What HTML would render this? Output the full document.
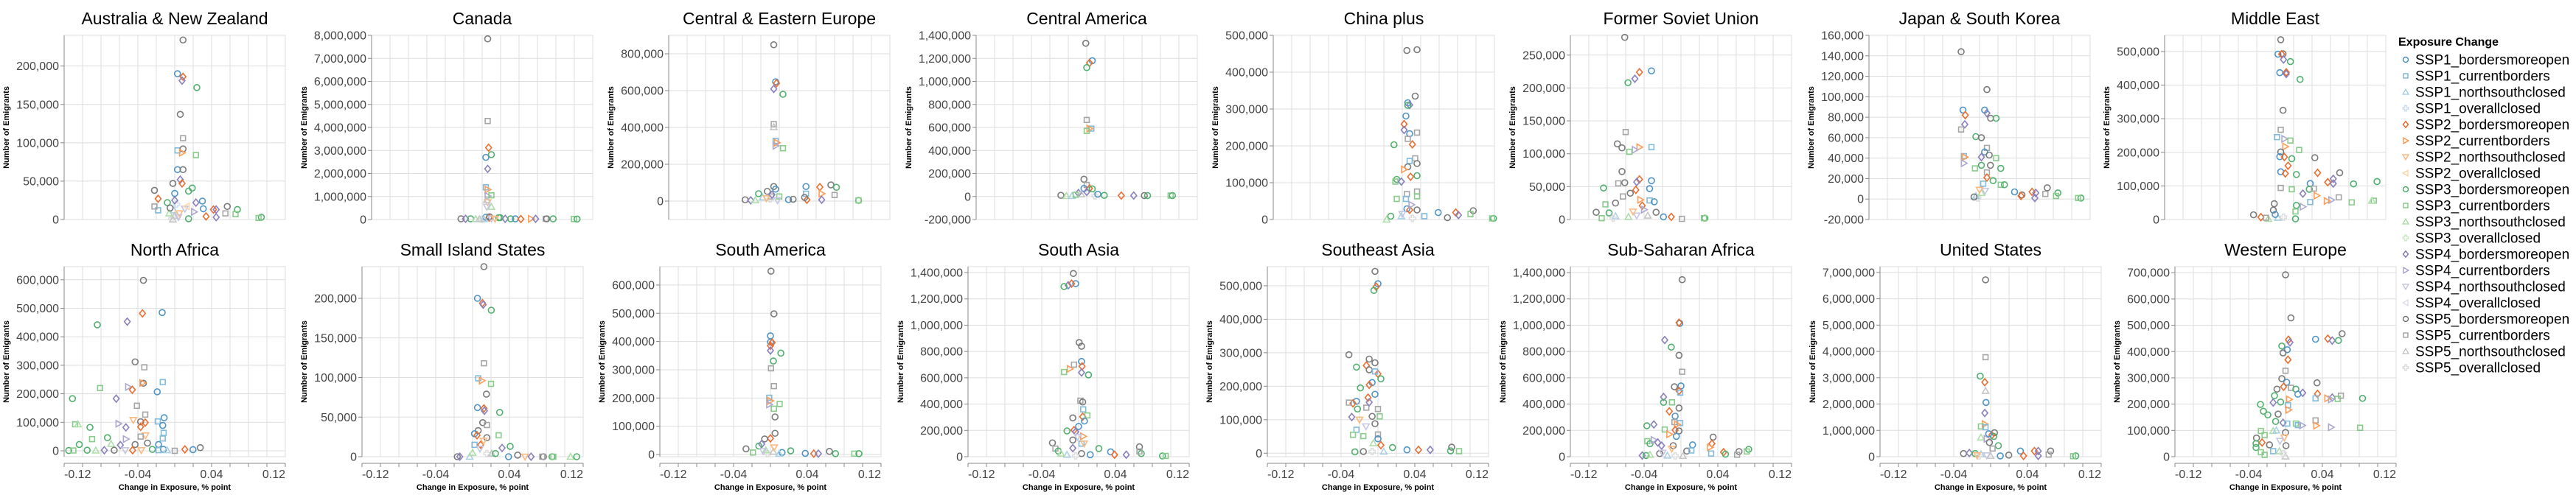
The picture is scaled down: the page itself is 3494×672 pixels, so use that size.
<!DOCTYPE html>
<html>
<head>
<meta charset="utf-8">
<style>
html,body{margin:0;padding:0;background:#fff;}
svg{display:block;font-family:"Liberation Sans",Arial,sans-serif;}
</style>
</head>
<body>
<svg id="chart" width="3494" height="672" viewBox="0 0 3494 672" xmlns="http://www.w3.org/2000/svg"></svg>
<script>
const seriesNames = ["SSP1_bordersmoreopen","SSP1_currentborders","SSP1_northsouthclosed","SSP1_overallclosed","SSP2_bordersmoreopen","SSP2_currentborders","SSP2_northsouthclosed","SSP2_overallclosed","SSP3_bordersmoreopen","SSP3_currentborders","SSP3_northsouthclosed","SSP3_overallclosed","SSP4_bordersmoreopen","SSP4_currentborders","SSP4_northsouthclosed","SSP4_overallclosed","SSP5_bordersmoreopen","SSP5_currentborders","SSP5_northsouthclosed","SSP5_overallclosed"];
const panelNames = ["Australia & New Zealand","Canada","Central & Eastern Europe","Central America","China plus","Former Soviet Union","Japan & South Korea","Middle East","North Africa","Small Island States","South America","South Asia","Southeast Asia","Sub-Saharan Africa","United States","Western Europe"];
const xTickLabels = [-0.12,-0.04,0.04,0.12];
const xDomain = [-0.12,0.12];
const yTicks = [
 [0,50000,100000,150000,200000],
 [0,1000000,2000000,3000000,4000000,5000000,6000000,7000000,8000000],
 [0,200000,400000,600000,800000],
 [-200000,0,200000,400000,600000,800000,1000000,1200000,1400000],
 [0,100000,200000,300000,400000,500000],
 [0,50000,100000,150000,200000,250000],
 [-20000,0,20000,40000,60000,80000,100000,120000,140000,160000],
 [0,100000,200000,300000,400000,500000],
 [0,100000,200000,300000,400000,500000,600000],
 [0,50000,100000,150000,200000],
 [0,100000,200000,300000,400000,500000,600000],
 [0,200000,400000,600000,800000,1000000,1200000,1400000],
 [0,100000,200000,300000,400000,500000],
 [0,200000,400000,600000,800000,1000000,1200000,1400000],
 [0,1000000,2000000,3000000,4000000,5000000,6000000,7000000],
 [0,100000,200000,300000,400000,500000,600000,700000]
];
const yDomains = [
 [0,240000],[0,8000000],[-100000,900000],[-200000,1400000],[0,500000],[0,280000],[-20000,160000],[0,548000],
 [-20700,646000],[0,240000],[-7800,665000],[0,1445000],[-10400,557000],[0,1445000],[0,7220000],[0,723000]
];
const ausData = [[.009,234000,16],[.003,190000,0],[.009,186000,4],[.008,181000,12],[.024,172000,8],[.006,137000,16],[.009,106000,17],[.003,90000,1],[.009,92000,16],[.008,87000,5],[.023,84000,9],[.003,65000,0],[.009,65000,16],[.006,52000,12],[.008,47000,4],[-.002,47000,16],[.015,37000,8],[.019,41000,8],[-.022,38000,16],[0,34000,0],[-.018,27000,4],[-.008,22000,8],[.030,24000,0],[.023,22000,12],[.031,14000,0],[.042,13000,4],[.045,13000,12],[.057,17000,16],[.068,13000,8],[.055,8000,17],[.066,7000,9],[.094,3000,8],[.091,2000,9],[.034,4000,4],[.045,3000,12],[.015,1000,8],[.021,10000,13],[-.018,12000,1],[-.022,17000,17],[-.001,12000,2],[0,5000,18],[-.003,1000,19],[.005,8000,6],[-.006,8000,10],[.011,14000,14],[.002,20000,3],[.013,17000,7],[0,25000,12],[-.005,15000,16],[.004,3000,14],[-.002,0,18]];
const canData = [[.006,7850000,16],[.006,4280000,17],[.007,3120000,4],[.010,2820000,8],[.004,2700000,0],[.006,2200000,12],[.004,1400000,1],[.006,1300000,5],[.006,1020000,13],[.010,1050000,9],[.006,750000,6],[.010,550000,10],[.005,550000,14],[.005,850000,18],[-.023,30000,16],[-.018,30000,12],[-.0125,30000,8],[-.007,20000,10],[0,10000,19],[.0075,80000,4],[.0195,80000,8],[.025,30000,12],[.031,30000,8],[.036,30000,0],[.042,20000,4],[.053,30000,5],[.058,30000,12],[.069,30000,17],[.070,30000,16],[.077,30000,8],[.0995,20000,9],[.103,20000,8],[.004,100000,0],[.008,120000,16],[.018,80000,8],[.002,20000,2],[-.003,20000,18],[.01,40000,14],[.014,30000,6]];
const ceeData = [[-.006,849000,16],[-.004,648000,0],[-.003,640000,4],[-.006,609000,12],[.004,580000,8],[-.006,418000,17],[-.006,402000,18],[-.004,327000,1],[-.0025,317000,5],[-.004,300000,13],[.004,287000,9],[-.006,79000,16],[-.004,65000,0],[-.013,53000,16],[-.0225,40000,8],[-.037,7000,16],[-.031,4000,12],[-.009,25000,17],[0,25000,9],[.010,8000,0],[.015,10000,16],[.029,79000,0],[.029,40000,1],[.044,76000,4],[.046,40000,5],[.046,7000,12],[.056,88000,16],[.062,75000,8],[.060,33000,17],[.030,7000,4],[.0275,20000,16],[.086,4000,8],[.086,4000,9],[-.018,20000,2],[-.010,12000,19],[-.026,5000,10],[-.002,4000,14],[-.014,15000,6],[-.008,35000,12]];
const camData = [[-.001,1331000,16],[.006,1180000,0],[.003,1160000,4],[0,1120000,8],[0,665000,17],[.005,590000,1],[.003,590000,5],[0,570000,9],[-.003,150000,16],[0,100000,17],[-.003,70000,0],[.003,70000,4],[.006,66000,8],[-.009,30000,12],[-.028,10000,16],[-.022,5000,10],[.019,10000,8],[.0375,8000,4],[.051,8000,12],[.0625,8000,16],[.066,8000,8],[.091,8000,9],[.093,8000,8],[-.016,5000,2],[.009,5000,19],[-.006,20000,18],[0,40000,12],[-.012,15000,9],[.012,20000,0]];
const chnData = [[.025,459000,16],[.036,461000,16],[.034,335000,16],[.026,317000,0],[.028,311000,12],[.026,310000,8],[.024,281000,0],[.022,259000,4],[.022,243000,12],[.028,233000,0],[.036,236000,17],[.026,219000,17],[.031,204000,4],[.011,203000,8],[.034,166000,17],[.036,152000,16],[.028,159000,1],[.026,143000,16],[.022,136000,5],[.014,109000,8],[.0125,103000,9],[.019,103000,12],[.029,116000,4],[.036,119000,8],[.014,56000,9],[.025,69000,17],[.036,76000,17],[.036,63000,9],[.024,56000,1],[.025,29000,0],[.028,26000,4],[.036,26000,16],[.0075,9000,8],[.019,9000,2],[.059,19000,0],[.069,5000,16],[.078,19000,4],[.081,12000,12],[.097,24000,16],[.094,15000,9],[.119,3000,8],[.1175,3000,9],[.044,9000,1],[.003,0,10],[.031,3000,19],[.020,15000,14],[.030,40000,13]];
const fsuData = [[-.061,277000,16],[-.032,226000,0],[-.045,224000,4],[-.050,214000,12],[-.0575,208000,8],[-.060,133000,17],[-.069,115000,16],[-.064,109000,16],[-.045,110000,5],[-.032,110000,1],[-.050,106000,13],[-.056,103000,9],[-.064,73000,16],[-.045,61000,4],[-.032,59000,0],[-.048,57000,12],[-.068,55000,17],[-.061,56000,16],[-.034,47000,0],[-.084,48000,8],[-.049,45000,4],[-.055,40000,16],[-.063,35000,17],[-.034,29000,1],[-.029,27000,0],[-.082,23000,9],[-.071,25000,16],[-.044,30000,5],[-.042,21000,4],[-.092,11000,16],[-.078,10000,8],[-.027,11000,16],[-.019,4000,0],[-.0105,4000,4],[.001,1000,17],[.026,2000,8],[.025,2000,9],[-.086,2000,9],[-.071,5000,2],[-.057,4000,10],[-.048,6000,14],[-.036,6000,18],[-.0735,2000,19],[-.040,15000,13],[-.052,12000,6]];
const jpnData = [[-.020,144000,16],[.008,107000,16],[-.018,87000,0],[.0055,87000,0],[-.0155,82000,4],[.008,84000,12],[.012,79000,16],[.018,79000,8],[-.016,73000,12],[-.020,68000,17],[-.004,61000,8],[.002,60000,16],[.008,50000,17],[.0055,46000,0],[.0105,43000,16],[-.017,42000,1],[-.016,41000,5],[.002,41000,12],[.018,40000,9],[-.017,35000,13],[.002,33000,8],[.0118,33000,16],[-.005,30000,9],[.023,30000,8],[.008,26000,17],[.008,21000,4],[.0147,18000,8],[.023,14000,9],[.027,14000,8],[.038,7000,0],[.046,4000,16],[.045,3000,4],[.057,7000,4],[.061,6000,12],[.060,1000,12],[.0735,11000,16],[.0714,5000,17],[.085,6000,8],[.083,3000,9],[.110,1000,8],[.107,1000,9],[-.002,1000,19],[-.004,3000,2],[.002,6000,10],[.006,8000,14],[0,9000,6],[-.006,2000,16],[.004,15000,1]];
const mdeData = [[.006,535000,16],[.003,492000,0],[.0085,493000,16],[.007,492000,4],[.009,476000,12],[.0165,470000,8],[.005,437000,0],[.012,438000,4],[.012,433000,12],[.027,417000,8],[.0085,325000,16],[.006,267000,17],[.002,245000,1],[.010,240000,13],[.0165,235000,9],[.011,217000,5],[.026,207000,9],[.006,201000,16],[.005,187000,0],[.010,186000,4],[.018,181000,8],[.043,184000,16],[.014,160000,4],[.006,142000,0],[.011,137000,4],[.023,134000,8],[.046,139000,4],[.070,139000,16],[.057,111000,4],[.063,121000,12],[.063,107000,12],[.038,107000,0],[.085,106000,8],[.1105,113000,8],[.037,90000,8],[.042,92000,17],[.018,90000,9],[.006,94000,17],[.030,77000,12],[.045,71000,5],[.069,66000,17],[.061,58000,13],[.056,55000,5],[.083,51000,9],[.107,56000,9],[.105,56000,10],[.038,52000,1],[.030,38000,13],[.023,42000,8],[.022,24000,9],[.022,2000,8],[-.001,47000,16],[-.002,28000,16],[-.0235,14000,16],[-.0155,7000,4],[-.0075,2000,10],[.003,5000,2],[.009,7000,19],[0,15000,0],[-.010,5000,17]];
const nafData = [[-.034,598000,16],[-.035,482000,4],[-.0136,485000,0],[-.084,442000,8],[-.0515,453000,12],[-.043,312000,16],[-.033,293000,17],[-.034,237000,16],[-.035,238000,5],[-.013,241000,1],[-.0505,224000,13],[-.081,220000,9],[-.046,214000,4],[-.019,207000,0],[-.0635,183000,12],[-.111,183000,8],[-.041,158000,17],[-.032,127000,17],[-.0115,116000,0],[-.045,108000,6],[-.0184,103000,1],[-.013,89000,0],[-.037,102000,16],[-.032,99000,4],[-.061,95000,13],[-.037,84000,4],[-.108,93000,9],[-.105,93000,10],[-.053,82000,12],[-.092,82000,8],[-.012,63000,1],[-.0318,54000,6],[-.037,50000,17],[-.013,43000,1],[-.073,46000,8],[-.053,41000,13],[-.0897,41000,9],[-.069,24000,10],[-.1036,22000,8],[-.059,20000,12],[-.0176,22000,0],[-.0296,27000,16],[-.043,22000,16],[.0277,11000,16],[.011,5000,4],[.0198,4000,0],[0,0,17],[-.0123,5000,0],[-.0243,5000,8],[-.0457,2000,4],[-.0764,2000,12],[-.115,1000,8],[-.11,1000,9],[-.095,2000,8],[-.0857,1000,10],[-.0657,2000,16],[-.0537,2000,14],[-.0363,2000,6],[-.0176,2000,1],[-.0083,2000,2]];
const sisData = [[.0123,240000,16],[.0053,200000,0],[.0107,194000,4],[.0115,192000,12],[.0203,185000,8],[.0123,118000,17],[.0061,99000,1],[.0101,96000,5],[.020,92000,9],[.015,79000,16],[.0053,62000,0],[.0123,61000,4],[.0128,58000,12],[.0294,56000,8],[.011,43000,16],[.0155,40000,17],[.0061,33000,16],[.0021,29000,0],[.0048,27000,4],[.0283,27000,9],[.0155,24000,16],[.0021,15000,1],[.0088,15000,4],[.032,11000,12],[.0408,13000,8],[.039,0,0],[.0489,2000,16],[.0569,0,6],[.0635,0,12],[.0769,0,16],[.0756,0,17],[.0862,0,8],[.0876,0,9],[.1063,0,10],[.113,0,8],[-.0166,0,16],[-.0139,0,12],[-.0032,0,2],[.0155,4000,19],[.0208,4000,18],[.0248,4000,8],[.008,10000,14],[0,5000,10],[.012,20000,6]];
const samData = [[.0006,649000,16],[.0038,498000,16],[0,420000,0],[0,398000,0],[.0019,396000,4],[0,385000,4],[0,368000,12],[.0113,359000,8],[.0032,331000,8],[.0006,305000,17],[.0038,242000,17],[-.0013,201000,1],[0,190000,5],[.010,179000,9],[.0038,162000,9],[-.0013,177000,13],[.005,133000,16],[.005,75000,16],[0,57000,4],[-.0063,55000,16],[-.0095,37000,12],[-.0126,30000,8],[-.0265,20000,16],[-.019,7000,9],[.022,13000,8],[.0126,7000,0],[.0378,4000,0],[.047,3000,4],[.052,3000,12],[.064,11000,16],[.0706,3000,8],[.091,3000,9],[.096,3000,8],[-.0032,3000,19],[.0032,10000,18],[.0095,3000,2],[-.005,15000,10],[.004,25000,6],[-.008,12000,14]];
const sasData = [[-.0057,1393000,16],[-.0032,1316000,0],[-.0076,1316000,4],[-.0113,1303000,12],[-.0158,1294000,8],[.0006,868000,16],[.0032,840000,16],[.0032,724000,0],[.0038,687000,4],[-.005,700000,17],[-.0095,668000,5],[.0032,640000,12],[-.0158,644000,9],[.0107,622000,8],[.0019,426000,17],[.0044,416000,16],[.005,360000,1],[.0044,304000,4],[.0095,314000,9],[.0063,271000,0],[-.0063,295000,16],[0,230000,0],[-.005,202000,4],[-.0032,189000,12],[-.0126,196000,8],[.005,155000,5],[.0032,99000,1],[-.0063,127000,16],[-.0284,105000,16],[-.0252,62000,17],[-.022,43000,8],[-.0063,65000,12],[.0032,24000,16],[.022,62000,8],[.0126,15000,0],[.0347,37000,0],[.039,15000,4],[.0517,15000,12],[.066,75000,16],[.068,24000,8],[.066,40000,17],[.091,6000,8],[.0945,6000,9],[-.0032,6000,19],[-.0126,15000,2],[-.019,24000,10],[.006,100000,6],[-.001,150000,14]];
const seaData = [[-.0032,543000,16],[0,506000,0],[-.0019,497000,4],[-.0044,486000,8],[-.0315,294000,16],[-.0095,281000,16],[-.0032,270000,16],[-.0126,262000,4],[-.0233,257000,8],[-.0095,249000,16],[0,237000,4],[-.0032,244000,1],[.0032,222000,8],[-.0063,211000,0],[-.0095,204000,4],[-.019,195000,8],[-.0032,176000,0],[-.0107,166000,4],[-.0233,155000,0],[-.0271,149000,4],[-.0315,151000,17],[0,132000,17],[-.0126,136000,17],[-.0095,152000,12],[-.0222,132000,8],[.0019,110000,9],[-.0284,108000,12],[-.0063,110000,16],[-.0032,88000,16],[-.0233,70000,1],[-.0271,55000,9],[-.0158,51000,9],[0,56000,17],[0,43000,0],[.0032,24000,4],[.0158,17000,8],[.0315,10000,0],[.044,10000,4],[.0567,10000,12],[.080,18000,16],[.0788,7000,8],[.088,6000,9],[-.025,4000,8],[-.0158,5000,16],[-.0063,5000,19],[.0063,5000,2],[-.013,80000,14],[-.02,100000,6],[-.005,30000,10]];
const ssaData = [[.0013,1346000,16],[-.0013,1014000,0],[-.0021,1019000,4],[-.0176,887000,12],[-.0105,833000,8],[-.0021,771000,16],[.0013,646000,17],[0,538000,0],[-.0071,532000,16],[-.0021,500000,4],[-.0008,487000,1],[-.0189,454000,12],[-.0189,413000,8],[-.0097,413000,9],[-.0021,370000,16],[-.0126,345000,4],[-.0063,308000,0],[-.0071,263000,17],[-.0008,256000,1],[-.0294,245000,12],[-.037,235000,8],[-.0042,245000,5],[-.0063,202000,4],[-.0176,207000,9],[-.0021,196000,16],[-.005,155000,0],[-.0126,170000,5],[-.0365,118000,9],[-.0336,99000,8],[-.0294,127000,13],[-.0252,108000,12],[-.021,84000,12],[-.0084,84000,16],[.0126,90000,0],[.0063,43000,16],[.0113,47000,1],[.0349,149000,16],[.0336,99000,4],[.0315,71000,5],[.0328,24000,1],[.0462,34000,4],[.0483,19000,8],[.063,39000,16],[.0609,15000,17],[.0735,56000,8],[.0714,40000,9],[-.042,9000,12],[-.0378,9000,8],[-.0231,24000,16],[-.0147,9000,2],[-.0063,6000,19],[.0021,6000,18],[-.0336,15000,10],[-.01,60000,6],[-.02,30000,14]];
const usaData = [[-.0055,6720000,16],[-.0055,3780000,17],[-.0113,3060000,8],[-.0063,2830000,4],[-.0055,2500000,18],[-.005,2060000,0],[-.0063,1660000,12],[-.0063,1240000,5],[-.0105,1150000,9],[-.0055,1120000,1],[-.0105,730000,10],[.0042,910000,16],[.0013,820000,4],[.0034,770000,8],[-.0021,870000,0],[-.0042,680000,13],[-.0013,540000,16],[.0084,420000,8],[.0021,310000,17],[-.0294,120000,16],[-.0231,140000,12],[-.0168,120000,8],[-.0105,93000,2],[.0105,30000,0],[.0197,60000,16],[.0323,215000,0],[.0357,30000,4],[.0475,215000,4],[.0517,215000,12],[.0517,30000,12],[.0651,215000,16],[.063,80000,17],[.0924,30000,8],[.0895,20000,9],[-.0126,30000,19],[0,30000,18],[-.0042,50000,14],[-.0147,50000,6]];
const weuData = [[0,692000,16],[.0059,528000,16],[.0614,468000,16],[.0326,447000,0],[.0459,449000,4],[.0507,442000,12],[.0574,442000,8],[.0032,445000,4],[.0048,435000,12],[-.004,421000,8],[.0019,407000,0],[-.0027,395000,16],[.0027,369000,4],[0,327000,17],[-.004,297000,16],[.0013,283000,0],[.0342,281000,16],[.0059,262000,17],[-.0021,266000,4],[.0112,257000,8],[.0187,243000,12],[.0347,239000,4],[.0134,238000,0],[-.0093,257000,16],[.0601,232000,17],[.0507,225000,12],[.0454,222000,5],[.0494,218000,13],[.0566,220000,9],[.0836,222000,8],[.0326,222000,1],[-.012,232000,8],[.004,218000,5],[-.0053,208000,8],[-.0134,206000,12],[-.0272,199000,8],[.0027,196000,1],[-.024,173000,8],[-.0192,159000,8],[-.008,162000,16],[.0032,178000,5],[.0326,138000,17],[-.0107,134000,8],[-.0027,129000,12],[.0019,126000,1],[.0112,126000,9],[.0134,120000,1],[.0182,119000,13],[.0334,118000,5],[.0494,112000,13],[.0809,110000,9],[-.0267,98000,9],[-.0134,98000,10],[-.0227,82000,9],[0,92000,16],[-.0315,71000,16],[-.0013,73000,6],[-.0254,54000,4],[-.0174,45000,16],[-.032,50000,8],[.0005,42000,16],[-.032,35000,8],[-.0267,17000,9],[-.0134,21000,1],[-.0067,21000,10],[0,1000,18],[-.0027,12000,19],[-.0227,7000,9],[-.006,60000,14],[-.01,100000,2]];
const panelData = [ausData,canData,ceeData,camData,chnData,fsuData,jpnData,mdeData,nafData,sisData,samData,sasData,seaData,ssaData,usaData,weuData];

/* ---- styling / layout ---- */
const COLORS = ["#3182bd","#6baed6","#9ecae1","#c6dbef","#e6550d","#fd8d3c","#fdae6b","#fdd0a2","#31a354","#74c476","#a1d99b","#c7e9c0","#756bb1","#9e9ac8","#bcbddc","#dadaeb","#636363","#969696","#bdbdbd","#d9d9d9"];
const PLOT_LEFT = [87,504,907,1324,1727,2130,2535,2936, 87,491,895,1313,1719,2130,2550,2950];
const PLOT_W = 300;
const ROW_TOP = [48,362], ROW_BOT = [298,620];
const NS = "http://www.w3.org/2000/svg";
const svg = document.getElementById("chart");

function mk(tag, attrs, parent){
  const e = document.createElementNS(NS, tag);
  for (const k in attrs) e.setAttribute(k, attrs[k]);
  (parent||svg).appendChild(e);
  return e;
}
function shapePath(s, sz){
  const grp = Math.floor(s/4), k = s%4, a = sz;
  const even = (grp % 2 === 0);
  if (even){
    if (k===0) return null;
    if (k===1) return `M${-a*0.85},${-a*0.85}h${a*1.7}v${a*1.7}h${-a*1.7}z`;
    if (k===2) return `M0,${-a*1.1}L${a*1.1},${a*0.85}L${-a*1.1},${a*0.85}z`;
    const w=a*0.38,r=a*1.05;
    return `M${-w},${-r}h${2*w}v${r-w}h${r-w}v${2*w}h${-(r-w)}v${r-w}h${-2*w}v${-(r-w)}h${-(r-w)}v${-2*w}h${r-w}z`;
  } else {
    if (k===0) return `M0,${-a*1.2}L${a},0L0,${a*1.2}L${-a},0z`;
    if (k===1) return `M${-a*0.85},${-a*1.1}L${a*1.1},0L${-a*0.85},${a*1.1}z`;
    if (k===2) return `M${-a*1.1},${-a*0.85}L${a*1.1},${-a*0.85}L0,${a*1.1}z`;
    return `M${a*0.85},${-a*1.1}L${-a*1.1},0L${a*0.85},${a*1.1}z`;
  }
}
function drawSymbol(s, cx, cy, sz, sw, parent){
  const d = shapePath(s, sz);
  let e;
  if (d === null) e = mk("circle", {cx:cx, cy:cy, r:sz, fill:"none", stroke:COLORS[s], "stroke-width":sw}, parent);
  else e = mk("path", {d:d, transform:`translate(${cx},${cy})`, fill:"none", stroke:COLORS[s], "stroke-width":sw}, parent);
  return e;
}
function fmt(v){ return v.toLocaleString("en-US"); }
function labelWidth(str){
  let w=0; for (const c of str){ if (c===",") w+=4.45; else if (c==="-") w+=9.3; else w+=8.9; } return w;
}

panelNames.forEach((name, p) => {
  const row = p < 8 ? 0 : 1;
  const L = PLOT_LEFT[p], R = L + PLOT_W, T = ROW_TOP[row], B = ROW_BOT[row];
  const [y0, y1] = yDomains[p];
  const xs = v => L + (v - xDomain[0]) / (xDomain[1] - xDomain[0]) * PLOT_W;
  const ys = v => B - (v - y0) / (y1 - y0) * (B - T);
  const g = mk("g", {});
  
  

  const title = mk("text", {x:(L+R)/2, y:T-15, "text-anchor":"middle", "font-size":23, fill:"#000"}, g);
  title.textContent = name;
  
  

  const grid = mk("g", {stroke:"#dddddd", "stroke-width":1, fill:"none"}, g);
  
  
  for (let i=0;i<=12;i++){
    const xv = xDomain[0] + i*0.02;
    mk("line", {x1:xs(xv), x2:xs(xv), y1:T, y2:B}, grid);
  }
  yTicks[p].forEach(t => { mk("line", {x1:L, x2:R, y1:ys(t), y2:ys(t)}, grid); });
  mk("rect", {x:L, y:T, width:PLOT_W, height:B-T}, grid);

  const yax = mk("g", {}, g);
  
  
  mk("line", {x1:L, x2:L, y1:T, y2:B, stroke:"#888", "stroke-width":1}, yax);
  let maxW = 0;
  yTicks[p].forEach(t => {
    const y = ys(t);
    mk("line", {x1:L-5, x2:L, y1:y, y2:y, stroke:"#888"}, yax);
    const lab = mk("text", {x:L-7, y:y+5.5, "text-anchor":"end", "font-size":16, fill:"#444"}, yax);
    lab.textContent = fmt(t);
    
    
    maxW = Math.max(maxW, labelWidth(fmt(t)));
  });
  const tx = L - 7 - maxW - 10, ty = (T+B)/2;
  const yt = mk("text", {x:tx, y:ty, transform:`rotate(-90 ${tx} ${ty})`, "text-anchor":"middle", "font-size":11, "font-weight":"bold", fill:"#000"}, yax);
  yt.textContent = "Number of Emigrants";
  
  

  if (row === 1){
    const xax = mk("g", {}, g);
    
    
    const AY = 629;
    mk("line", {x1:L, x2:R, y1:AY, y2:AY, stroke:"#888"}, xax);
    for (let i=0;i<=12;i++){
      const xv = xDomain[0] + i*0.02;
      mk("line", {x1:xs(xv), x2:xs(xv), y1:AY, y2:AY+5, stroke:"#888"}, xax);
    }
    xTickLabels.forEach((v, i) => {
      const anchor = i===0 ? "start" : (i===xTickLabels.length-1 ? "end" : "middle");
      const lab = mk("text", {x:xs(v), y:649, "text-anchor":anchor, "font-size":16, fill:"#444"}, xax);
      lab.textContent = v.toFixed(2);
      
      
    });
    const xt = mk("text", {x:(L+R)/2, y:665, "text-anchor":"middle", "font-size":11, "font-weight":"bold", fill:"#000"}, xax);
    xt.textContent = "Change in Exposure, % point";
    
    
  }

  const marks = mk("g", {opacity:0.85}, g);
  
  
  panelData[p].forEach(pt => {
    const m = drawSymbol(pt[2], xs(pt[0]), ys(pt[1]), 4, 1.6, marks);
    
    
  });
});

/* legend */
const leg = mk("g", {});


const lt = mk("text", {x:3253, y:62, "font-size":16, "font-weight":"bold", fill:"#000"}, leg);
lt.textContent = "Exposure Change";


seriesNames.forEach((n, i) => {
  const y = 81 + i*22;
  const e = mk("g", {}, leg);
  
  
  drawSymbol(i, 3263, y, 3.5, 1.3, e);
  const t = mk("text", {x:3276, y:y+6.5, "font-size":19, fill:"#000"}, e);
  t.textContent = n;
});
</script>
</body>
</html>
